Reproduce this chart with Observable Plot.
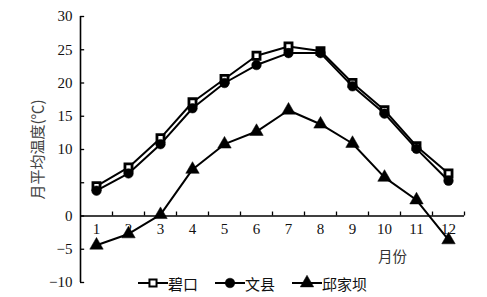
<!DOCTYPE html>
<html><head><meta charset="utf-8">
<script src="https://cdn.jsdelivr.net/npm/d3@7"></script>
<script src="https://cdn.jsdelivr.net/npm/@observablehq/plot@0.6"></script>
<style>
body{margin:0;background:#fff;}
#wrap{position:relative;width:487px;height:297px;}
#legend{position:absolute;left:138px;top:274px;height:18px;display:flex;align-items:center;font-family:"Noto Sans CJK SC",sans-serif;font-size:15px;color:#111;}
#legend .item{display:flex;align-items:center;margin-right:17px;}
#legend svg{display:block;}
</style></head><body><div id="wrap"><div id="legend"></div></div>
<script>
const months = [1,2,3,4,5,6,7,8,9,10,11,12];
const bikou    = [4.5, 7.3, 11.7, 17.1, 20.6, 24.1, 25.5, 24.8, 20.0, 15.9, 10.5, 6.4];
const wenxian  = [3.8, 6.4, 10.8, 16.2, 20.0, 22.7, 24.5, 24.5, 19.5, 15.4, 10.1, 5.3];
const qiujiaba = [-4.4, -2.7, 0.2, 7.0, 10.8, 12.7, 15.9, 13.8, 10.9, 5.8, 2.4, -3.6];
const seriesNames = ["碧口", "文县", "邱家坝"];
const yTickMarks = [30, 25, 20, 15, 10, 5, 0, -5, -10];
const yTickLabels = [30, 25, 20, 15, 10, 0, -5, -10];
const yTitle = "月平均温度(℃)";
const xTitle = "月份";

const seriesValues = [bikou, wenxian, qiujiaba];
const rows = seriesNames.flatMap((s, i) => months.map((m, j) => ({series: s, month: m, temp: seriesValues[i][j]})));
const boundaries = months.map(m => m + 0.5);
const fmt = d => d < 0 ? "\u2212" + Math.abs(d) : String(d);

const symbolStyles = {
  "碧口": {symbol: "square", fill: "white", stroke: "black", strokeWidth: 2.8, r: 4.0},
  "文县": {symbol: "circle", fill: "black", stroke: "black", strokeWidth: 0.5, r: 4.8},
  "邱家坝": {symbol: "triangle", fill: "black", stroke: "black", strokeWidth: 0.5, r: 5}
};

const chart = Plot.plot({
  width: 487, height: 297,
  marginLeft: 80, marginRight: 23, marginTop: 16, marginBottom: 15,
  x: {domain: [0.5, 12.5], axis: null},
  y: {domain: [-10, 30], axis: null},
  style: {fontFamily: "'Liberation Serif', serif", fontSize: "14px", color: "#000", background: "#fff"},
  marks: [
    Plot.ruleX([0.5], {y1: -10, y2: 30, stroke: "black", strokeWidth: 1.6}),
    Plot.ruleY(yTickMarks, {x1: 0.5, x2: 0.63, stroke: "black", strokeWidth: 1.3}),
    Plot.ruleY([0], {x1: 0.5, x2: 12.5, stroke: "black", strokeWidth: 1.6}),
    Plot.ruleX(boundaries, {y1: 0, y2: 0.6, stroke: "black", strokeWidth: 1.3}),
    Plot.text(yTickLabels, {x: 0.5, y: d => d, dx: -8, textAnchor: "end", text: fmt, fill: "#111", fontSize: 15}),
    Plot.text(months, {x: d => d, y: 0, dy: 13, text: d => String(d), fill: "#111", fontSize: 15}),
    Plot.text([yTitle], {frameAnchor: "left", dx: -42, rotate: -90, textAnchor: "middle", fontFamily: "'Noto Sans CJK SC', sans-serif", fontSize: 15, fill: "#444"}),
    Plot.text([xTitle], {x: 10.25, y: -6.2, fontFamily: "'Noto Sans CJK SC', sans-serif", fontSize: 14.5, fill: "#333"}),
    Plot.line(rows, {x: "month", y: "temp", z: "series", stroke: "black", strokeWidth: 2}),
    ...seriesNames.map(s => Plot.dot(rows.filter(r => r.series === s), {x: "month", y: "temp", ...symbolStyles[s]}))
  ]
});
document.getElementById("wrap").prepend(chart);

// legend
const legend = d3.select("#legend");
seriesNames.forEach(s => {
  const st = symbolStyles[s];
  const item = legend.append("div").attr("class", "item");
  const svg = item.append("svg").attr("width", 30).attr("height", 16);
  svg.append("line").attr("x1", 0).attr("x2", 30).attr("y1", 8).attr("y2", 8).attr("stroke", "black").attr("stroke-width", 2);
  const sym = {square: d3.symbolSquare, circle: d3.symbolCircle, triangle: d3.symbolTriangle}[st.symbol];
  svg.append("path").attr("transform", "translate(15,8)")
    .attr("d", d3.symbol(sym, st.r * st.r * Math.PI)())
    .attr("fill", st.fill).attr("stroke", st.stroke).attr("stroke-width", Math.min(st.strokeWidth, 2));
  item.append("span").text(s);
});
</script>
</body></html>
